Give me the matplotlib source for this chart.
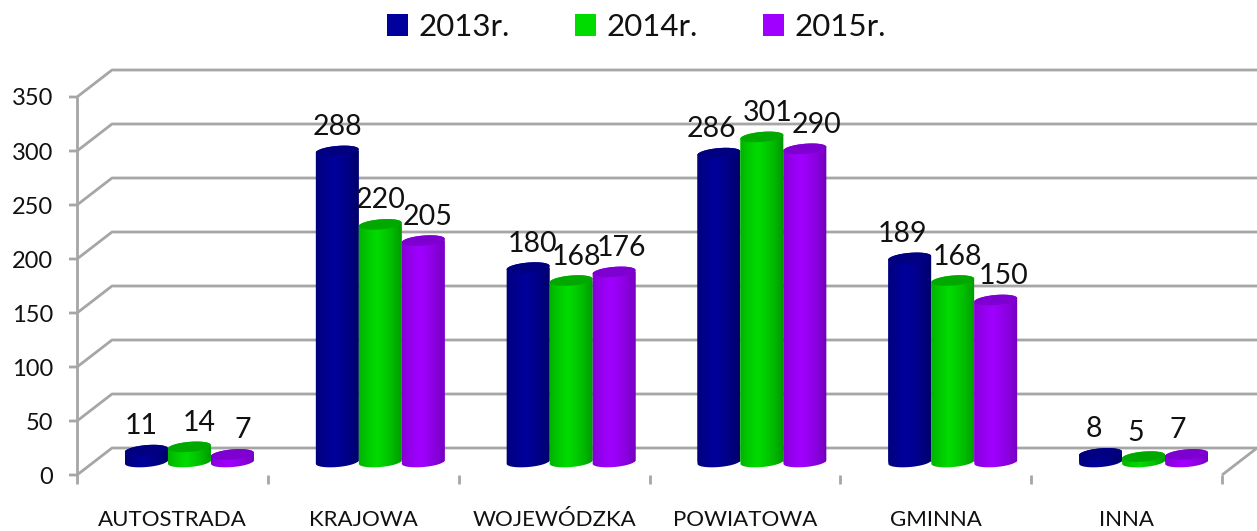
import numpy as np
import matplotlib
matplotlib.use("Agg")
import matplotlib.pyplot as plt
from matplotlib.patches import Polygon

categories = ["AUTOSTRADA", "KRAJOWA", "WOJEWÓDZKA", "POWIATOWA", "GMINNA", "INNA"]
years = ["2013r.", "2014r.", "2015r."]
v2013 = [11, 288, 180, 286, 189, 8]
v2014 = [14, 220, 168, 301, 168, 5]
v2015 = [7, 205, 176, 290, 150, 7]
y_ticks = [0, 50, 100, 150, 200, 250, 300, 350]

# edge, centre, top colours of each cylinder
colors = [("#00005c", "#00009c", "#000080"),
          ("#008a00", "#00dc00", "#00a800"),
          ("#6a00b0", "#a000ff", "#7d00d0")]
# nudges of the data labels in pixels, they are placed by hand in the original
label_dx = [[-5, 0, 4, -7, -7, -7], [10, 0, 5, 6, 5, -8], [10, 4, 7, 12, 8, -9]]

plt.rcParams["font.family"] = ["Lato", "DejaVu Sans"]

W, H = 1257, 531
fig = plt.figure(figsize=(W / 100, H / 100), dpi=100)
ax = fig.add_axes([0, 0, 1, 1])

# px per data unit
sx = (1222 - 77) / 6
sy = 1.08
ax.set_xlim(-77 / sx, (W - 77) / sx)
ax.set_ylim(-(H - 475) / sy, 475 / sy)
ax.axis("off")

gray = "#a6a6a6"
dx_back = 35 / sx
dy_back = 27 / sy
n = len(categories)
line = dict(color=gray, lw=2, solid_capstyle="butt", zorder=1)

for t in y_ticks:
    ax.plot([-8 / sx, 0, dx_back, n + dx_back], [t, t, t + dy_back, t + dy_back], **line)
    ax.text(-24 / sx, t - 2 / sy, str(t), ha="right", va="center", fontsize=17, color="#111111")
ax.plot([0, 0], [0, 350], **line)
ax.plot([n, n + dx_back], [0, dy_back], **line)
for i in range(n + 1):
    ax.plot([i, i], [0, -9 / sy], **line)
for i, c in enumerate(categories):
    ax.text(i + 0.5, -45 / sy, c, ha="center", va="center", fontsize=16, color="#111111")


def ellipse(cx, cy, w, a, b):
    # cx, cy in data units, half axes in px, tilted a few degrees
    t = np.linspace(a, b, 60)
    tilt = np.radians(5)
    px = w * np.cos(t)
    py = 5 * np.sin(t)
    x = px * np.cos(tilt) - py * np.sin(tilt)
    y = px * np.sin(tilt) + py * np.cos(tilt)
    return np.column_stack([cx + x / sx, cy + y / sy])


bar_w = 43 / sx
base = 13 / sy
shift = 17 / sx
handles = []

for s, vals in enumerate([v2013, v2014, v2015]):
    edge, mid, top = colors[s]
    xs = np.arange(n) + 0.5 + shift + (s - 1) * bar_w
    bars = ax.bar(xs, vals, width=bar_w, bottom=base, color=mid, linewidth=0,
                  label=years[s], zorder=2 + s)
    handles.append(bars)
    e = np.array(matplotlib.colors.to_rgb(edge))
    m = np.array(matplotlib.colors.to_rgb(mid))
    u = np.linspace(0, 1, 64)
    k = np.clip(1 - np.abs(u - 0.42) / 0.58, 0, 1)[:, None] ** 0.6
    grad = (e + (m - e) * k)[None, :, :]
    for x, v, r in zip(xs, vals, bars):
        cy = base + v
        body = np.vstack([ellipse(x, base, 21.5, np.pi, 2 * np.pi),
                          ellipse(x, cy, 21.5, 0, np.pi)])
        clip = Polygon(body, closed=True, transform=ax.transData, fc="none", ec="none")
        ax.add_patch(clip)
        r.set_clip_path(clip)
        im = ax.imshow(grad, extent=[x - bar_w / 2 - 1 / sx, x + bar_w / 2 + 1 / sx,
                                     base - 12 / sy, cy + 12 / sy],
                       aspect="auto", interpolation="bilinear", zorder=2 + s)
        im.set_clip_path(clip)
        ax.add_patch(Polygon(ellipse(x, cy, 21.5, 0, 2 * np.pi), closed=True,
                             fc=top, ec="none", zorder=2 + s))
    for i, (x, v) in enumerate(zip(xs, vals)):
        ax.text(x + label_dx[s][i] / sx, base + v + 24 / sy, str(v),
                ha="center", va="center", fontsize=20.5, color="#111111", zorder=10)

ax.set_xlim(-77 / sx, (W - 77) / sx)
ax.set_ylim(-(H - 475) / sy, 475 / sy)

ax.legend(handles=handles, labels=years, loc="center", ncol=3, frameon=False,
          bbox_to_anchor=(636.5 / W, 1 - 27 / H), bbox_transform=fig.transFigure,
          fontsize=22.5, handlelength=0.67, handleheight=0.67, handletextpad=0.32,
          columnspacing=2.1, labelcolor="#111111")

fig.savefig("out.png", dpi=100, facecolor="white")
